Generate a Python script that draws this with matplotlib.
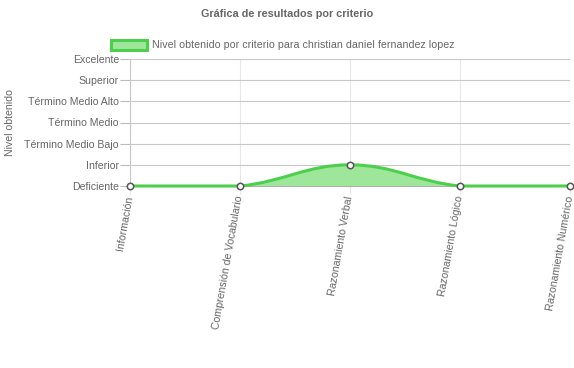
import numpy as np
import matplotlib
matplotlib.use("Agg")
import matplotlib.pyplot as plt
from matplotlib.path import Path
from matplotlib.patches import PathPatch, Rectangle

plt.rcParams['font.family'] = ['Liberation Sans', 'DejaVu Sans']

criterios = ["Información", "Comprensión de Vocabulario", "Razonamiento Verbal",
             "Razonamiento Lógico", "Razonamiento Numérico"]
niveles = [0, 0, 1, 0, 0]
etiquetas_nivel = ["Deficiente", "Inferior", "Término Medio Bajo", "Término Medio",
                   "Término Medio Alto", "Superior", "Excelente"]

titulo = "Gráfica de resultados por criterio"
leyenda = "Nivel obtenido por criterio para christian daniel fernandez lopez"

linea = "#4dcf4d"
relleno = "#9de69a"
gris = "#666666"
fs = 7.7

W, H = 574, 368
fig = plt.figure(figsize=(W / 100, H / 100), dpi=100)
x0, x1, ytop, ybot = 130, 570, 59, 186
ax = fig.add_axes([x0 / W, 1 - ybot / H, (x1 - x0) / W, (ybot - ytop) / H])

xs = np.arange(len(criterios), dtype=float)
ys = np.array(niveles, dtype=float)
ax.set_xlim(0, len(criterios) - 1)
ax.set_ylim(0, len(etiquetas_nivel) - 1)

# pixel scale for the spline (chart.js style tension curve)
sx = (x1 - x0) / (len(criterios) - 1)
sy = (ybot - ytop) / (len(etiquetas_nivel) - 1)
t = 0.4
ymax = len(etiquetas_nivel) - 1


def ctrl(i):
    p = np.array([xs[i] * sx, ys[i] * sy])
    a = np.array([xs[max(i - 1, 0)] * sx, ys[max(i - 1, 0)] * sy])
    b = np.array([xs[min(i + 1, len(xs) - 1)] * sx, ys[min(i + 1, len(xs) - 1)] * sy])
    d01 = np.hypot(*(p - a))
    d12 = np.hypot(*(b - p))
    tot = d01 + d12 if d01 + d12 > 0 else 1
    fa = t * d01 / tot
    fb = t * d12 / tot
    prev = p - fa * (b - a)
    nxt = p + fb * (b - a)
    prev = np.array([prev[0] / sx, np.clip(prev[1] / sy, 0, ymax)])
    nxt = np.array([nxt[0] / sx, np.clip(nxt[1] / sy, 0, ymax)])
    return prev, nxt


cps = [ctrl(i) for i in range(len(xs))]
verts = [(xs[0], ys[0])]
codes = [Path.MOVETO]
for i in range(len(xs) - 1):
    verts += [tuple(cps[i][1]), tuple(cps[i + 1][0]), (xs[i + 1], ys[i + 1])]
    codes += [Path.CURVE4] * 3

fill_verts = verts + [(xs[-1], 0), (xs[0], 0), (xs[0], ys[0])]
fill_codes = codes + [Path.LINETO, Path.LINETO, Path.CLOSEPOLY]
ax.add_patch(PathPatch(Path(fill_verts, fill_codes), facecolor=relleno, edgecolor='none', zorder=2))
ax.add_patch(PathPatch(Path(verts, codes), facecolor='none', edgecolor=linea, lw=2.2,
                       zorder=3, clip_on=False))
ax.plot(xs, ys, 'o', ms=4.6, mfc='white', mec='#555555', mew=1.1, zorder=4, clip_on=False)

ax.set_yticks(range(len(etiquetas_nivel)))
ax.set_yticklabels(etiquetas_nivel)
ax.set_xticks(xs)
ax.set_xticklabels(criterios, rotation=80, ha='right', va='center', rotation_mode='anchor')
ax.tick_params(axis='y', length=7, width=0.8, color='#bbbbbb', pad=1, labelsize=7.6, labelcolor=gris)
ax.tick_params(axis='x', length=6, width=0.8, color='#e5e5e5', pad=1, labelsize=7.6, labelcolor=gris)

ax.grid(axis='y', color='#c8c8c8', lw=0.8)
ax.grid(axis='x', color='#e8e8e8', lw=0.8)
ax.set_axisbelow(True)
for s in ['top', 'right']:
    ax.spines[s].set_visible(False)
ax.spines['left'].set_color('#c8c8c8')
ax.spines['bottom'].set_color('#b0b0b0')
ax.spines['left'].set_linewidth(0.8)
ax.spines['bottom'].set_linewidth(0.8)

fig.text(10 / W, 1 - 123 / H, "Nivel obtenido", rotation=90, ha='center', va='center',
         fontsize=7.6, color=gris)

fig.text(0.5, 1 - 14 / H, titulo, ha='center', va='center', fontsize=7.8,
         fontweight='bold', color=gris)
fig.patches.append(Rectangle((111 / W, 1 - 50 / H), 36 / W, 10 / H, transform=fig.transFigure,
                             facecolor=relleno, edgecolor=linea, lw=2.2))
fig.text(152 / W, 1 - 45 / H, leyenda, ha='left', va='center', fontsize=fs, color=gris)

fig.savefig("out.png", dpi=100)
